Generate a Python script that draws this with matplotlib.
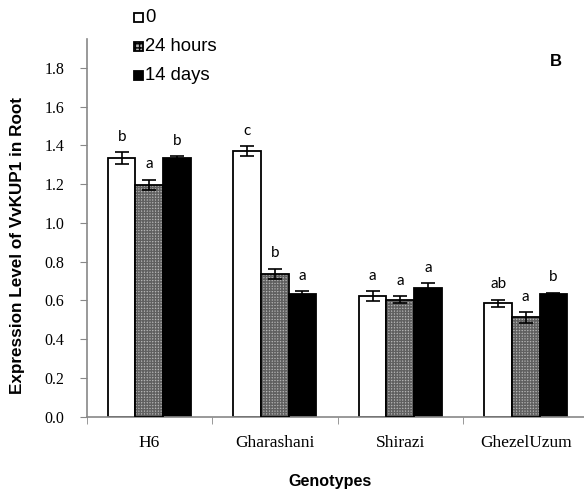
import numpy as np
import matplotlib.pyplot as plt

genotypes = ['H6', 'Gharashani', 'Shirazi', 'GhezelUzum']
series = ['0', '24 hours', '14 days']

# mean expression and standard error per treatment
vals_0 = [1.335, 1.370, 0.622, 0.584]
vals_24h = [1.196, 0.736, 0.603, 0.512]
vals_14d = [1.337, 0.632, 0.666, 0.631]
err_0 = [0.031, 0.026, 0.024, 0.020]
err_24h = [0.028, 0.027, 0.017, 0.027]
err_14d = [0.008, 0.015, 0.022, 0.009]

# significance letters
let_0 = ['b', 'c', 'a', 'ab']
let_24h = ['a', 'b', 'a', 'a']
let_14d = ['b', 'a', 'a', 'b']

fig = plt.figure(figsize=(5.84, 4.9), dpi=100)
ax = fig.add_axes([86.5 / 584, 1 - 416.5 / 490, 502 / 584, 377.5 / 490])

x = np.arange(len(genotypes))
w = 0.22
offsets = [-w, 0, w]

data = [(vals_0, err_0, let_0), (vals_24h, err_24h, let_24h), (vals_14d, err_14d, let_14d)]
for i, (v, e, lets) in enumerate(data):
    xs = x + offsets[i]
    if i == 0:
        ax.bar(xs, v, w, color='white', edgecolor='black', linewidth=1.3, zorder=2)
    elif i == 1:
        ax.bar(xs, v, w, color='#b4b4b4', edgecolor='#606060', hatch='++++++',
               linewidth=0, zorder=2)
        ax.bar(xs, v, w, color='none', edgecolor='black', linewidth=1.3, zorder=3)
    else:
        ax.bar(xs, v, w, color='black', edgecolor='black', linewidth=1.3, zorder=2)
    ax.errorbar(xs, v, yerr=e, fmt='none', ecolor='black', elinewidth=1.2,
                capsize=5, capthick=1.2, zorder=4)
    for xi, vi, ei, t in zip(xs, v, e, lets):
        ax.annotate(t, (xi, vi + ei), xytext=(0, 6), textcoords='offset points',
                    ha='center', va='bottom', fontsize=11, family='Lato')

ax.set_xlim(-0.5, 3.5)
ax.set_ylim(0, 1.95)
ax.set_yticks(np.arange(0, 1.81, 0.2))
ax.set_yticklabels([f'{t:.1f}' for t in np.arange(0, 1.81, 0.2)],
                   family='Liberation Serif', fontsize=11.5)
ax.set_xticks(x)
ax.set_xticklabels(genotypes, family='Liberation Serif', fontsize=12.5)
ax.set_xticks(np.arange(-0.5, 3.6, 1), minor=True)
ax.tick_params(axis='x', which='major', length=0, pad=13)
ax.tick_params(axis='x', which='minor', length=5, direction='out', color='#888888')
ax.tick_params(axis='y', length=5, direction='out', color='#888888', pad=11)

for s in ['top', 'right']:
    ax.spines[s].set_visible(False)
for s in ['left', 'bottom']:
    ax.spines[s].set_color('#888888')
    ax.spines[s].set_linewidth(1.2)

fig.text(18 / 584, 1 - 245 / 490, 'Expression Level of VvKUP1 in Root', rotation=90,
         ha='center', va='center', fontsize=12.3, fontweight='bold', family='Liberation Sans')
fig.text(330 / 584, 1 - 481 / 490, 'Genotypes', ha='center', va='center',
         fontsize=11.6, fontweight='bold', family='Liberation Sans')
fig.text(555.5 / 584, 1 - 61 / 490, 'B', ha='center', va='center',
         fontsize=12, fontweight='bold', family='Liberation Sans')

# legend drawn as squares with text beside them
leg_y = [18, 46.5, 75]
for i, (lab, ly) in enumerate(zip(series, leg_y)):
    yy = 1 - ly / 490
    x0, y0, sz = 133.5 / 584, yy - 4.5 / 490, (9 / 584, 9 / 490)
    if i == 0:
        r = plt.Rectangle((x0, y0), *sz, transform=fig.transFigure,
                          facecolor='white', edgecolor='black', linewidth=1.3)
    elif i == 1:
        r = plt.Rectangle((x0, y0), *sz, transform=fig.transFigure,
                          facecolor='#b4b4b4', edgecolor='black', hatch='++++', linewidth=1.3)
    else:
        r = plt.Rectangle((x0, y0), *sz, transform=fig.transFigure,
                          facecolor='black', edgecolor='black', linewidth=1.3)
    fig.patches.append(r)
    fig.text(145 / 584, yy, lab, ha='left', va='center', fontsize=13.3, family='Liberation Sans')

fig.savefig('out.png', dpi=100)
